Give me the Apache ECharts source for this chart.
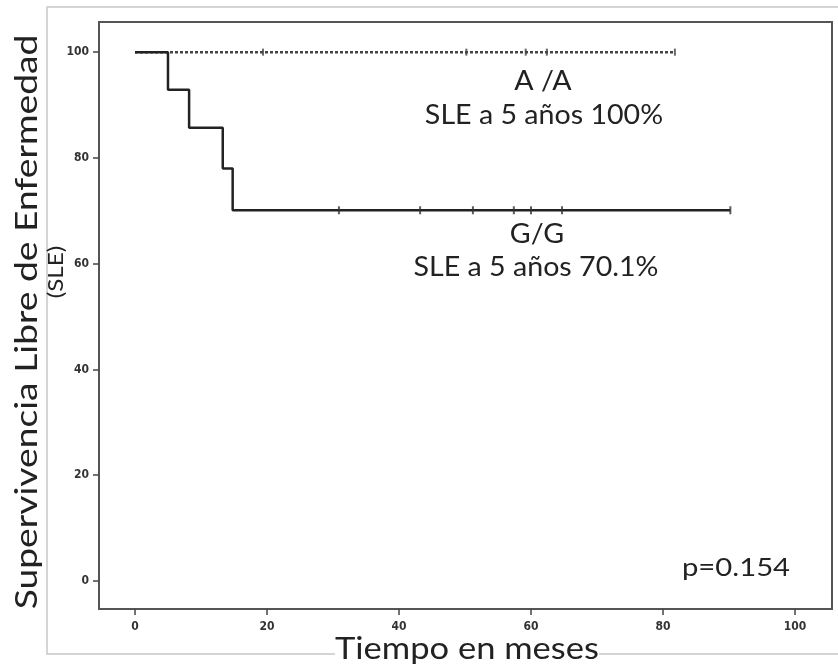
<!DOCTYPE html>
<html>
<head>
<meta charset="utf-8">
<script src="https://cdn.jsdelivr.net/npm/echarts@6/dist/echarts.min.js"></script>
<style>
    html, body { margin: 0; padding: 0; background: #fff; }
    #chart { width: 838px; height: 669px; }
</style>
</head>
<body>
<div id="chart"></div>
<script>
    // tiempo (meses) / supervivencia (%)
    var ggSteps = [[0, 100], [5.0, 92.9], [8.2, 85.7], [13.3, 78.0], [14.8, 70.1], [90.2, 70.1]];
    var ggCensored = [[30.9, 70.1], [43.2, 70.1], [51.2, 70.1], [57.4, 70.1], [60.0, 70.1], [64.7, 70.1], [90.2, 70.1]];
    var aaSteps = [[0, 100], [81.8, 100]];
    var aaCensored = [[19.4, 100], [50.2, 100], [59.2, 100], [62.4, 100], [81.8, 100]];
    var tickValues = [0, 20, 40, 60, 80, 100];

    var textFont = 'Lato, "DejaVu Sans", sans-serif';
    var tickFont = '"DejaVu Sans Condensed", "DejaVu Sans", sans-serif';

    // texto de anotación centrado
    function label(x, y, text, size, sx) {
        return {
            type: 'text', x: x, y: y, scaleX: sx,
            style: { text: text, font: size + 'px ' + textFont, fill: '#222', align: 'center', verticalAlign: 'middle' }
        };
    }

    var chart = echarts.init(document.getElementById('chart'));
    var option = {
        animation: false,
        backgroundColor: '#fff',
        grid: {
            left: 99,
            right: 6,
            top: 22,
            bottom: 60,
            show: true,
            borderColor: '#555',
            borderWidth: 2
        },
        xAxis: {
            type: 'value',
            min: -5.45,
            max: 105.6,
            splitLine: { show: false },
            axisLine: { show: false, onZero: false },
            axisTick: { show: true, customValues: tickValues, length: 6, lineStyle: { color: '#444', width: 1.5 } },
            axisLabel: {
                customValues: tickValues,
                margin: 12,
                color: '#333',
                fontFamily: tickFont,
                fontWeight: 'bold',
                fontSize: 12
            }
        },
        yAxis: {
            type: 'value',
            min: -5.3,
            max: 105.7,
            splitLine: { show: false },
            axisLine: { show: false, onZero: false },
            axisTick: { show: true, customValues: tickValues, length: 6, lineStyle: { color: '#444', width: 1.5 } },
            axisLabel: {
                customValues: tickValues,
                margin: 10,
                color: '#333',
                fontFamily: tickFont,
                fontWeight: 'bold',
                fontSize: 12
            }
        },
        series: [
            {
                name: 'A/A',
                type: 'line',
                step: 'end',
                symbol: 'none',
                lineStyle: { color: '#444', width: 2.5, type: [3, 2] },
                data: aaSteps,
                z: 2
            },
            {
                name: 'A/A censurados',
                type: 'scatter',
                symbol: 'rect',
                symbolSize: [2, 7],
                itemStyle: { color: '#444' },
                data: aaCensored,
                z: 3
            },
            {
                name: 'G/G',
                type: 'line',
                step: 'end',
                symbol: 'none',
                lineStyle: { color: '#222', width: 2.5 },
                data: ggSteps,
                z: 4
            },
            {
                name: 'G/G censurados',
                type: 'scatter',
                symbol: 'rect',
                symbolSize: [2, 8],
                itemStyle: { color: '#333' },
                data: ggCensored,
                z: 5
            }
        ],
        graphic: [
            {
                type: 'rect',
                z: -10,
                shape: { x: 47, y: 7, width: 800, height: 647 },
                style: { fill: 'none', stroke: '#c8c8c8', lineWidth: 1.5 }
            },
            label(543, 82, 'A /A', 26, 1.1),
            label(544, 116, 'SLE a 5 años 100%', 26, 1.1),
            label(537, 235, 'G/G', 26, 1.1),
            label(536, 268, 'SLE a 5 años 70.1%', 26, 1.1),
            label(736, 568, 'p=0.154', 25, 1.17),
            {
                type: 'text', x: 467, y: 649, scaleX: 1.15,
                style: { text: 'Tiempo en meses', font: '30px ' + textFont, fill: '#222', align: 'center', verticalAlign: 'middle', backgroundColor: '#fff' }
            },
            {
                type: 'text', x: 27, y: 322, rotation: Math.PI / 2, scaleX: 1.24,
                style: { text: 'Supervivencia Libre de Enfermedad', font: '30px ' + textFont, fill: '#222', align: 'center', verticalAlign: 'middle' }
            },
            {
                type: 'text', x: 56, y: 272, rotation: Math.PI / 2, scaleX: 1.1,
                style: { text: '(SLE)', font: '22px ' + textFont, fill: '#222', align: 'center', verticalAlign: 'middle' }
            }
        ]
    };
    chart.setOption(option);
</script>
</body>
</html>
